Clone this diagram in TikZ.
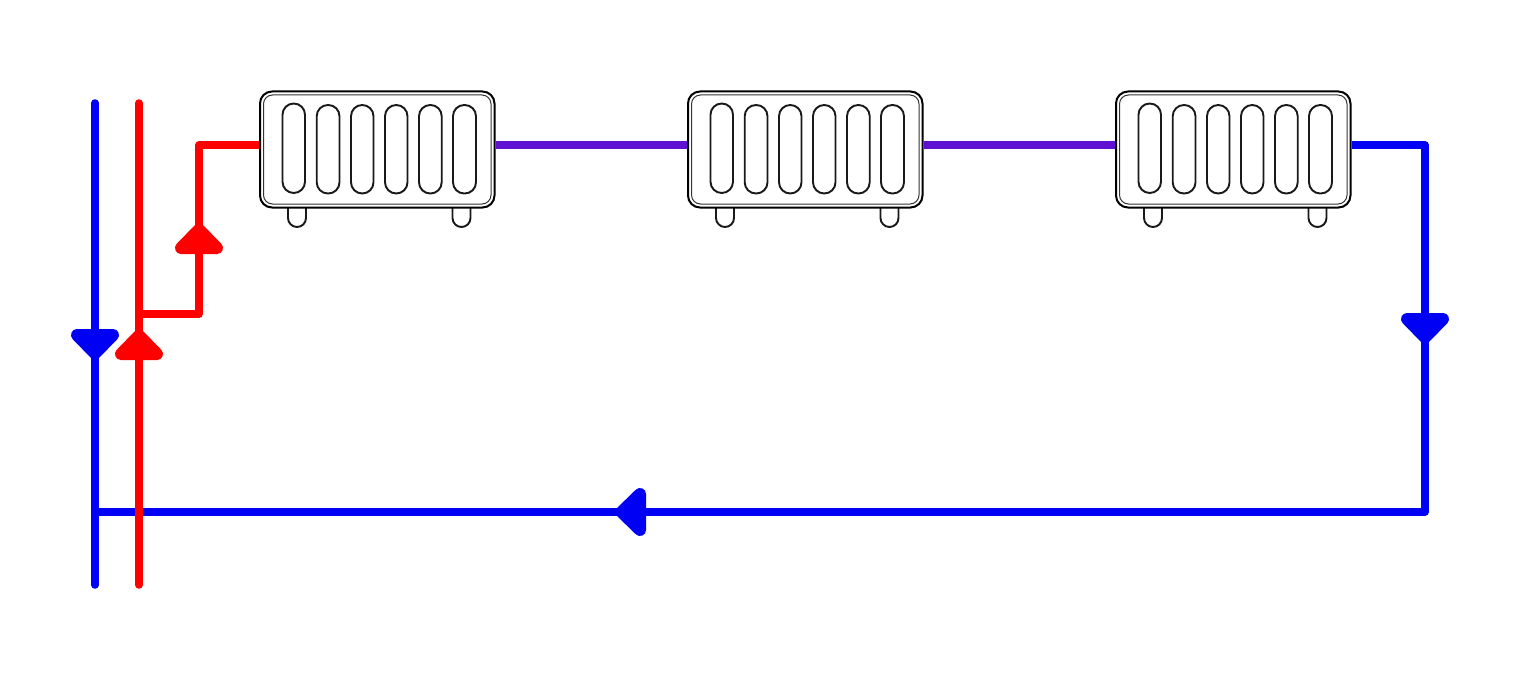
\documentclass[tikz,border=0pt]{standalone}
\usetikzlibrary{calc}
\definecolor{pipeblue}{RGB}{0,0,245}
\definecolor{pipered}{RGB}{255,0,0}
\definecolor{pipepurple}{RGB}{96,16,208}
\tikzset{
  pipe/.style={line width=7.5pt,line cap=round,line join=round},
  radbody/.style={draw=black,line width=2pt,rounded corners=12pt,minimum width=234.5pt,minimum height=116pt,inner sep=0pt,fill=white},
  radline/.style={draw=black!90,line width=1.9pt},
  radinner/.style={draw=black!80,line width=1pt},
  flowtip/.pic={\path[pic actions,line width=12pt,line join=round] (0,0) -- (-18,18.5) -- (18,18.5) -- cycle;}
}
\newcommand{\radiator}[2]{%
  \begin{scope}[shift={(#2,0)}]
    \draw[radline,rounded corners=9pt] (28,205) -- (28,227) -- (46,227) -- (46,205);
    \draw[radline,rounded corners=9pt] (192.5,205) -- (192.5,227) -- (210.5,227) -- (210.5,205);
  \end{scope}
  \node[radbody] (#1) at (#2+117.25,149.5) {};
  \begin{scope}[shift={(#2,0)}]
    \draw[radinner,rounded corners=9pt] (3.5,95) rectangle (231,204);
    \draw[radline,rounded corners=11.2pt] (22.5,103.5) rectangle (45,193);
    \draw[radline,rounded corners=11.2pt] (56.7,105) rectangle (79.5,193.5);
    \draw[radline,rounded corners=11.2pt] (91,105) rectangle (113.5,193.5);
    \draw[radline,rounded corners=11.2pt] (125,105) rectangle (147.5,193.5);
    \draw[radline,rounded corners=11.2pt] (159,105) rectangle (181.7,193.5);
    \draw[radline,rounded corners=11.2pt] (193,105) rectangle (216,193.5);
  \end{scope}%
}
\begin{document}
\begin{tikzpicture}[x=1pt,y=-1pt]
  \useasboundingbox (0,0) rectangle (1520,674);
  \fill[white] (0,0) rectangle (1520,674);
  % radiators
  \radiator{radA}{260}
  \radiator{radB}{688}
  \radiator{radC}{1116}
  % pipe ends on radiators
  \coordinate (aw) at ($(radA.west)+(0,-4.5)$);
  \coordinate (ae) at ($(radA.east)+(0,-4.5)$);
  \coordinate (bw) at ($(radB.west)+(0,-4.5)$);
  \coordinate (be) at ($(radB.east)+(0,-4.5)$);
  \coordinate (cw) at ($(radC.west)+(0,-4.5)$);
  \coordinate (ce) at ($(radC.east)+(0,-4.5)$);
  % risers
  \coordinate (blueTop) at (95,103);
  \coordinate (blueBot) at (95,585);
  \coordinate (redTop) at (139,103);
  \coordinate (redBot) at (139,585);
  \coordinate (redTee) at (139,314);
  \coordinate (redKnee) at (199,314);
  \coordinate (returnTee) at (95,512);
  \coordinate (returnCorner) at (1425,512);
  % blue
  \draw[pipe,pipeblue,line cap=butt] (ce) -- (ce -| returnCorner) -- (returnCorner) -- (returnTee);
  \draw[pipe,pipeblue] (blueTop) -- (blueBot);
  % purple
  \draw[pipe,pipepurple,line cap=butt] (ae) -- (bw);
  \draw[pipe,pipepurple,line cap=butt] (be) -- (cw);
  % red
  \draw[pipe,pipered] (redTop) -- (redBot);
  \draw[pipe,pipered,line cap=butt] (redTee) -- (redKnee) -- (redKnee |- aw) -- (aw);
  % arrowheads
  \path (139,335.5) pic[fill=pipered,draw=pipered] {flowtip};
  \path (199,229.5) pic[fill=pipered,draw=pipered] {flowtip};
  \path (95,353.5) pic[fill=pipeblue,draw=pipeblue,rotate=180] {flowtip};
  \path (1425,337.5) pic[fill=pipeblue,draw=pipeblue,rotate=180] {flowtip};
  \path (621.5,512) pic[fill=pipeblue,draw=pipeblue,rotate=90] {flowtip};
\end{tikzpicture}
\end{document}
